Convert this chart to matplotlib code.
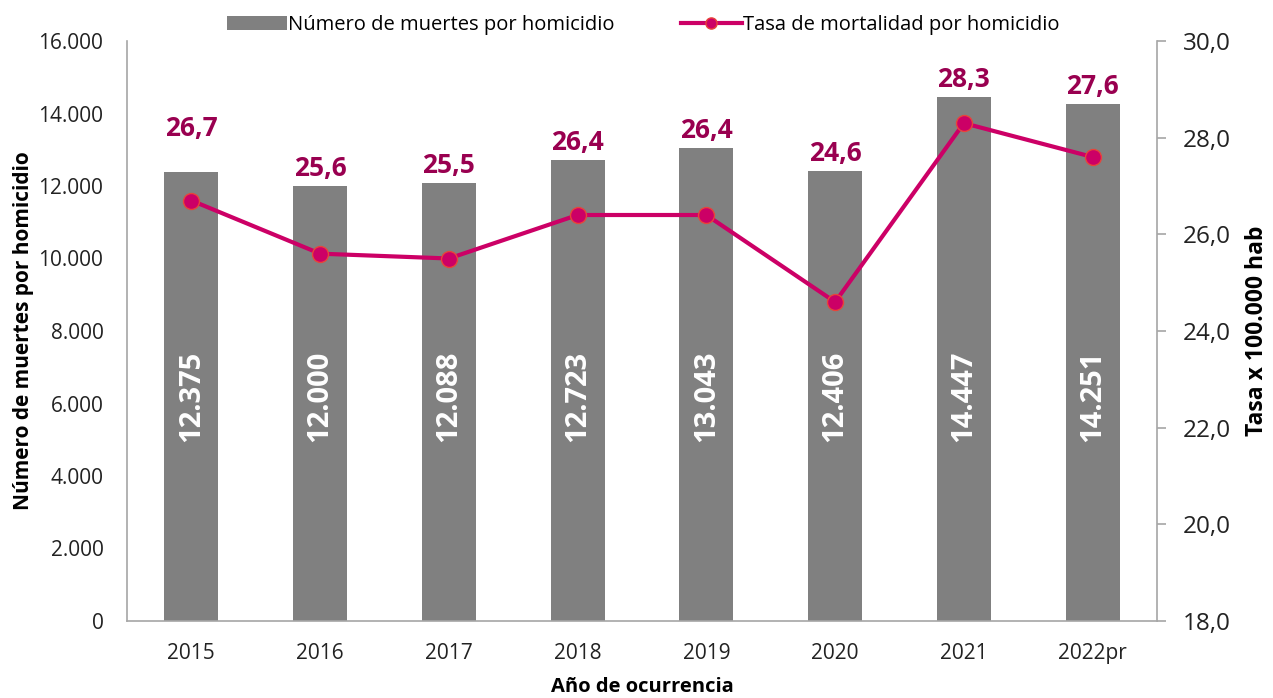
import matplotlib
matplotlib.use("Agg")
import matplotlib.pyplot as plt
import numpy as np

plt.rcParams['font.family'] = ['Open Sans', 'DejaVu Sans']

years = ["2015", "2016", "2017", "2018", "2019", "2020", "2021", "2022pr"]
muertes = [12375, 12000, 12088, 12723, 13043, 12406, 14447, 14251]
tasa = [26.7, 25.6, 25.5, 26.4, 26.4, 24.6, 28.3, 27.6]
muertes_labels = ["12.375", "12.000", "12.088", "12.723", "13.043", "12.406", "14.447", "14.251"]
tasa_labels = ["26,7", "25,6", "25,5", "26,4", "26,4", "24,6", "28,3", "27,6"]
left_ticks = ["0", "2.000", "4.000", "6.000", "8.000", "10.000", "12.000", "14.000", "16.000"]
right_ticks = ["18,0", "20,0", "22,0", "24,0", "26,0", "28,0", "30,0"]

BAR = "#808080"
LINE = "#CC0066"
EDGE = "#E8443A"
LAB = "#990050"
SPINE = "#A6A6A6"

fig = plt.figure(figsize=(12.73, 6.98), dpi=100)
ax = fig.add_axes([127/1273, 1-621/698, (1157-127)/1273, (621-41)/698])
ax2 = ax.twinx()

x = np.arange(len(years))
bars = ax.bar(x, muertes, width=0.42, color=BAR, zorder=2,
              label="Número de muertes por homicidio")
ax.set_xlim(-0.5, len(years)-0.5)
ax.set_ylim(0, 16000)
ax.set_yticks(np.arange(0, 16001, 2000))
ax.set_yticklabels(left_ticks, fontsize=15, color="#222222")
ax.set_xticks(x)
ax.set_xticklabels(years, fontsize=15, color="#222222")
ax.tick_params(axis='y', length=0, pad=17)
ax.tick_params(axis='x', length=0, pad=16)
for s in ["top", "right"]:
    ax.spines[s].set_visible(False)
for s in ["left", "bottom"]:
    ax.spines[s].set_color(SPINE)
    ax.spines[s].set_linewidth(1.2)
ax.set_ylabel("Número de muertes por homicidio", fontsize=15, fontweight="bold", labelpad=3)
ax.set_xlabel("Año de ocurrencia", fontsize=14.5, fontweight="bold", labelpad=9)

for xi, lab in zip(x, muertes_labels):
    ax.text(xi, 6200, lab, rotation=90, ha="center", va="center",
            color="white", fontsize=21, fontweight="bold", zorder=3)

line, = ax2.plot(x, tasa, color=LINE, lw=3, marker="o", markersize=11.5,
                 markerfacecolor=LINE, markeredgecolor=EDGE, markeredgewidth=1,
                 zorder=4, label="Tasa de mortalidad por homicidio")
ax2.set_ylim(18, 30)
ax2.set_yticks(np.arange(18, 30.1, 2))
ax2.set_yticklabels(right_ticks, fontsize=17.5, color="#222222")
ax2.tick_params(axis='y', length=6.5, color=SPINE, width=1.2, pad=12)
for s in ["top", "left", "bottom"]:
    ax2.spines[s].set_visible(False)
ax2.spines["right"].set_color(SPINE)
ax2.spines["right"].set_linewidth(1.2)
ax2.set_ylabel("Tasa x 100.000 hab", fontsize=16.5, fontweight="bold", labelpad=10)

for i, (xi, m, lab) in enumerate(zip(x, muertes, tasa_labels)):
    off = 22 if i == 0 else 3
    ax.annotate(lab, (xi, m), xytext=(0, off), textcoords="offset points",
                ha="center", va="bottom", color=LAB, fontsize=19,
                fontweight="bold", zorder=5)

leg = fig.legend(handles=[bars, line], loc="upper center",
                 bbox_to_anchor=(0.505, 1.005), ncol=2, frameon=False,
                 fontsize=14.5, handlelength=3.0, columnspacing=3.3,
                 handletextpad=0.05, markerscale=0.7)

fig.savefig("out.png", dpi=100)
